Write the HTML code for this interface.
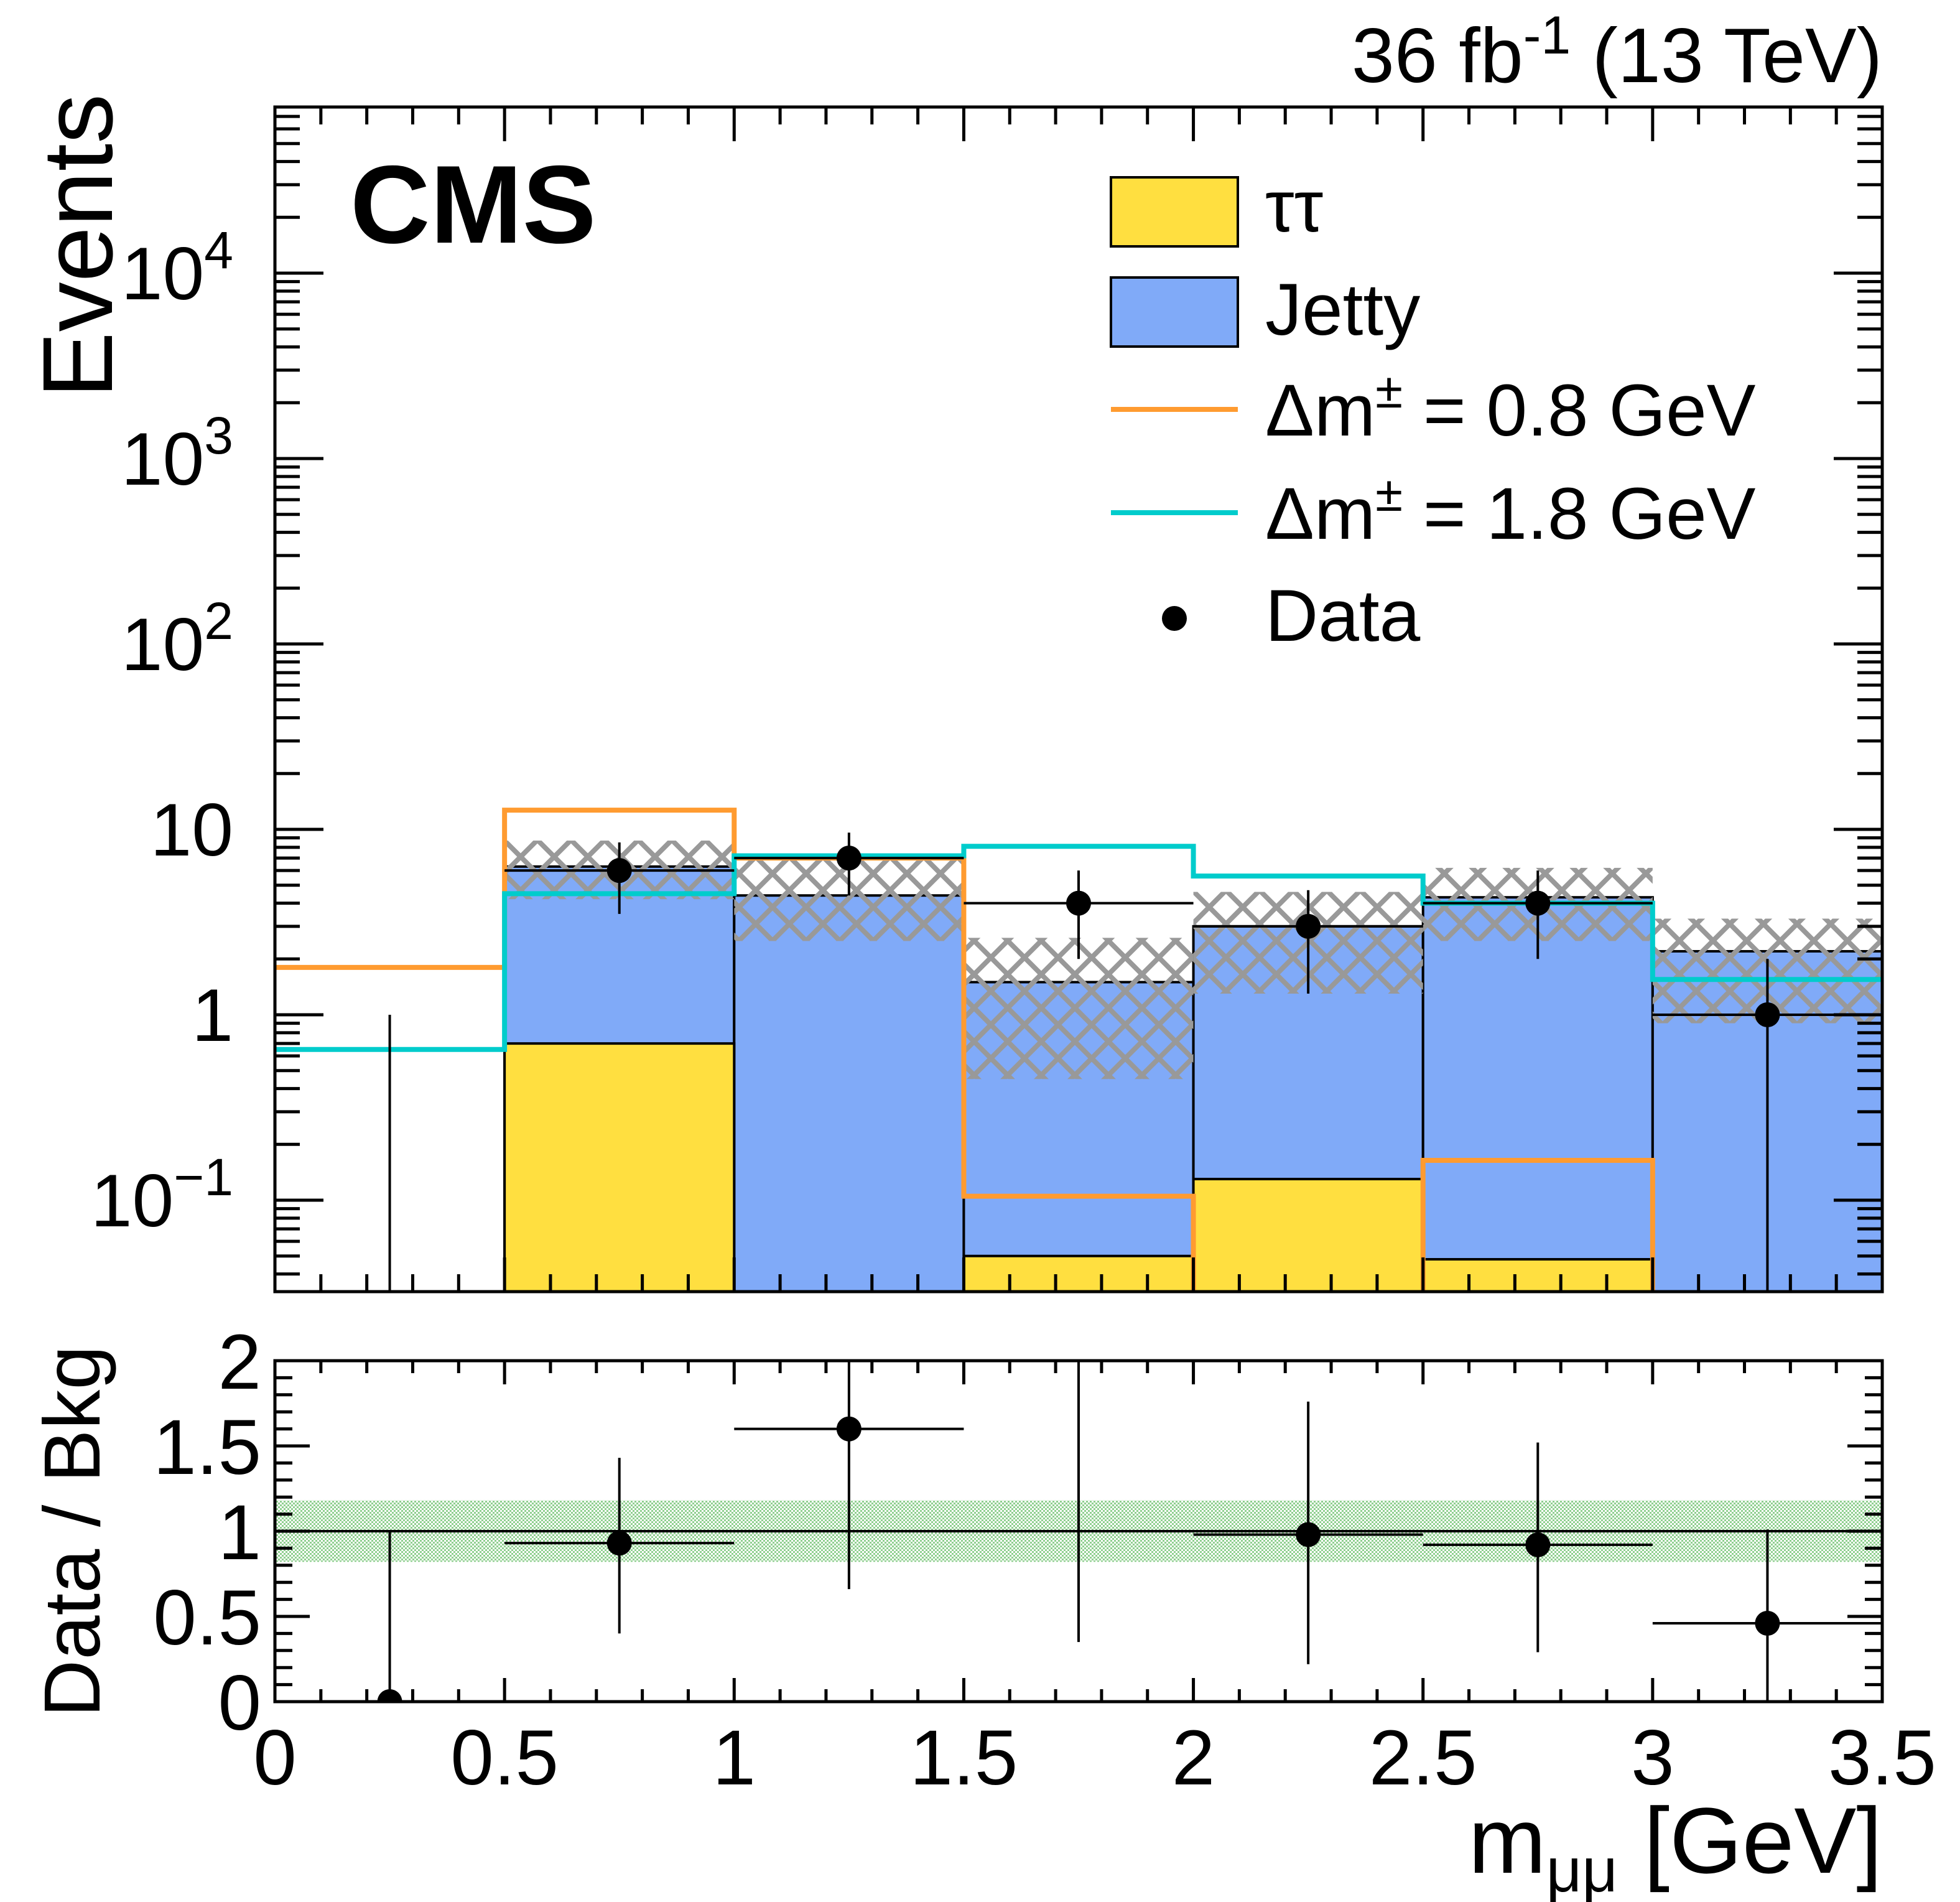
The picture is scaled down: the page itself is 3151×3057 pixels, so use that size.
<!DOCTYPE html>
<html><head><meta charset="utf-8"><style>
body{margin:0;background:#fff}
svg{display:block;font-family:"Liberation Sans",Arial,sans-serif}
</style></head><body>
<svg id="c" width="3151" height="3057" viewBox="0 0 3151 3057" xmlns="http://www.w3.org/2000/svg">
<defs>
<pattern id="hatch" patternUnits="userSpaceOnUse" width="54" height="54">
<path d="M0,0 L54,54 M54,0 L0,54" stroke="#999" stroke-width="8"/>
</pattern>
<pattern id="dots" patternUnits="userSpaceOnUse" width="6" height="6">
<rect width="6" height="6" fill="#fff"/><rect width="3" height="3" fill="#8fcf8f"/><rect x="3" y="3" width="3" height="3" fill="#8fcf8f"/>
</pattern>
<clipPath id="mainclip"><rect x="442" y="172" width="2584" height="1904"/></clipPath>
<clipPath id="ratioclip"><rect x="442" y="2187" width="2584" height="548"/></clipPath>
</defs>
<g id="main" clip-path="url(#mainclip)"></g>
<g id="ratio" clip-path="url(#ratioclip)"></g>
<g id="axes"></g>
<text x="3026" y="132" font-size="124" text-anchor="end">36 fb<tspan dy="-46" font-size="86">-1</tspan><tspan dy="46"> (13 TeV)</tspan></text>
<text x="563" y="390" font-size="178" font-weight="bold">CMS</text>
<text transform="translate(180,640) rotate(-90)" font-size="160">Events</text>
<text transform="translate(160,2760) rotate(-90)" font-size="128">Data / Bkg</text>
<text x="3026" y="3010" font-size="150" text-anchor="end">m<tspan dy="30" font-size="100">μμ</tspan><tspan dy="-30"> [GeV]</tspan></text>
<g id="legend">
<rect x="1786" y="285" width="204" height="111" fill="#ffdf40" stroke="#000" stroke-width="4"/>
<text x="2034" y="372" font-size="118">ττ</text>
<rect x="1786" y="446" width="204" height="111" fill="#80aaf8" stroke="#000" stroke-width="4"/>
<text x="2034" y="538" font-size="118">Jetty</text>
<line x1="1786" y1="658" x2="1990" y2="658" stroke="#ff9b30" stroke-width="8"/>
<text x="2034" y="700" font-size="118">Δm<tspan dy="-45" font-size="80">±</tspan><tspan dy="45"> = 0.8 GeV</tspan></text>
<line x1="1786" y1="824" x2="1990" y2="824" stroke="#00cccc" stroke-width="8"/>
<text x="2034" y="866" font-size="118">Δm<tspan dy="-45" font-size="80">±</tspan><tspan dy="45"> = 1.8 GeV</tspan></text>
<circle cx="1888" cy="994" r="20" fill="#000"/>
<text x="2034" y="1030" font-size="118">Data</text>
</g>
</svg>
<script>
const binEdges=[0,0.5,1,1.5,2,2.5,3,3.5];
const tautau=[0,0.7,0.001,0.05,0.13,0.048,0];
const stackTotal=[0,6.3,4.4,1.5,3.0,4.3,2.2];
const uncLow=[0,4.2,2.5,0.45,1.3,2.5,0.9];
const uncHigh=[0,8.7,7.2,2.6,4.6,6.2,3.3];
const sigDm08=[1.8,12.7,7.0,0.105,0.01,0.164,0.01];
const sigDm18=[0.65,4.5,7.2,8.1,5.6,4.0,1.55];
const dataVals=[0,6,7,4,3,4,1];
const dataLow=[0,3.5,4.4,2,1.3,2,0.001];
const dataHigh=[1,8.5,9.6,6,4.7,6,2];
const ratioVals=[0,0.93,1.6,null,0.98,0.92,0.46];
const ratioLow=[0,0.40,0.66,0.35,0.22,0.29,0];
const ratioHigh=[1.0,1.43,2.2,2.2,1.76,1.52,1.01];
const bandLow=0.82, bandHigh=1.18;
const xTickLabels=["0","0.5","1","1.5","2","2.5","3","3.5"];
const ratioTickLabels=["0","0.5","1","1.5","2"];

const NS="http://www.w3.org/2000/svg";
const X0=442,X1=3026,MT=172,MB=2076,RT=2187,RB=2735;
const yOne=1631,dec=298;
function xs(v){return X0+(v-0)/3.5*(X1-X0);}
function ys(v){return yOne-Math.log10(Math.max(v,1e-4))*dec;}
function yr(v){return RB-v/2*(RB-RT);}
function el(tag,attrs,parent){const e=document.createElementNS(NS,tag);for(const k in attrs)e.setAttribute(k,attrs[k]);parent.appendChild(e);return e;}
const main=document.getElementById('main'),ratio=document.getElementById('ratio'),axes=document.getElementById('axes');

for(let i=0;i<7;i++){
  if(stackTotal[i]<=0)continue;
  const r=el('rect',{x:xs(binEdges[i]),y:ys(stackTotal[i]),width:xs(binEdges[i+1])-xs(binEdges[i]),height:MB-ys(stackTotal[i]),fill:'#80aaf8',stroke:'#000','stroke-width':4},main);
  
  
}
for(let i=0;i<7;i++){
  if(tautau[i]<=0)continue;
  const r=el('rect',{x:xs(binEdges[i]),y:ys(tautau[i]),width:xs(binEdges[i+1])-xs(binEdges[i]),height:MB-ys(tautau[i]),fill:'#ffdf40',stroke:'#000','stroke-width':4},main);
  
  
}
for(let i=0;i<7;i++){
  if(uncHigh[i]<=0)continue;
  const r=el('rect',{x:xs(binEdges[i]),y:ys(uncHigh[i]),width:xs(binEdges[i+1])-xs(binEdges[i]),height:ys(uncLow[i])-ys(uncHigh[i]),fill:'url(#hatch)'},main);
  
  
}
function stepPath(vals){
  let d='';
  for(let i=0;i<vals.length;i++){
    const y=Math.min(ys(vals[i]),MB+10);
    d+=(i===0?'M':'L')+xs(binEdges[i])+','+y+' L'+xs(binEdges[i+1])+','+y+' ';
  }
  return d;
}
const p1=el('path',{d:stepPath(sigDm08),fill:'none',stroke:'#ff9b30','stroke-width':8},main);


const p2=el('path',{d:stepPath(sigDm18),fill:'none',stroke:'#00cccc','stroke-width':8},main);



for(let i=0;i<7;i++){
  const cx=xs((binEdges[i]+binEdges[i+1])/2);
  const g=el('g',{},main);
  
  
  el('line',{x1:cx,x2:cx,y1:ys(dataHigh[i]),y2:Math.min(ys(dataLow[i]),MB),stroke:'#000','stroke-width':4},g);
  if(dataVals[i]>0){
    el('line',{x1:xs(binEdges[i]),x2:xs(binEdges[i+1]),y1:ys(dataVals[i]),y2:ys(dataVals[i]),stroke:'#000','stroke-width':4},g);
    el('circle',{cx:cx,cy:ys(dataVals[i]),r:20,fill:'#000'},g);
  }
}
const band=el('rect',{x:X0,y:yr(bandHigh),width:X1-X0,height:yr(bandLow)-yr(bandHigh),fill:'url(#dots)'},ratio);


const ul=el('line',{x1:X0,x2:X1,y1:yr(1),y2:yr(1),stroke:'#000','stroke-width':4},ratio);


for(let i=0;i<7;i++){
  const cx=xs((binEdges[i]+binEdges[i+1])/2);
  const g=el('g',{},ratio);
  
  
  el('line',{x1:cx,x2:cx,y1:yr(ratioHigh[i]),y2:yr(ratioLow[i]),stroke:'#000','stroke-width':4},g);
  if(ratioVals[i]!==null){
    if(i>0)el('line',{x1:xs(binEdges[i]),x2:xs(binEdges[i+1]),y1:yr(ratioVals[i]),y2:yr(ratioVals[i]),stroke:'#000','stroke-width':4},g);
    el('circle',{cx:cx,cy:yr(ratioVals[i]),r:20,fill:'#000'},g);
  }
}
const f1=el('rect',{x:X0,y:MT,width:X1-X0,height:MB-MT,fill:'none',stroke:'#000','stroke-width':5},axes);


const f2=el('rect',{x:X0,y:RT,width:X1-X0,height:RB-RT,fill:'none',stroke:'#000','stroke-width':5},axes);


let td='';
for(let k=0;k<=35;k++){
  const v=k/10,x=xs(v),major=(k%5===0);
  const L=major?55:28, Lr=major?38:20;
  td+=`M${x},${MT}v${L}M${x},${MB}v${-L}M${x},${RT}v${Lr}M${x},${RB}v${-Lr}`;
}
for(let e=-2;e<=4;e++){
  for(let m=1;m<=9;m++){
    const v=m*Math.pow(10,e),y=ys(v);
    if(y<MT||y>MB)continue;
    const L=(m===1)?78:40;
    td+=`M${X0},${y}h${L}M${X1},${y}h${-L}`;
  }
}
for(let k=0;k<=20;k++){
  const y=yr(k/10),L=(k%5===0)?56:28;
  td+=`M${X0},${y}h${L}M${X1},${y}h${-L}`;
}
const ticks=el('path',{d:td,stroke:'#000','stroke-width':5,fill:'none'},axes);


const yLab=[[1e4,'10','4'],[1e3,'10','3'],[100,'10','2'],[10,'10',null],[1,'1',null],[0.1,'10','−1']];
yLab.forEach(([v,b,s])=>{
  const t=el('text',{x:375,y:ys(v)+42,'font-size':120,'text-anchor':'end'},axes);
  
  
  t.textContent=b;
  if(s){const sp=el('tspan',{dy:-50,'font-size':84},t);sp.textContent=s;}
});
ratioTickLabels.forEach((s,i)=>{
  const t=el('text',{x:420,y:yr(i*0.5)+45,'font-size':125,'text-anchor':'end'},axes);
  
  
  t.textContent=s;
});
xTickLabels.forEach((s,i)=>{
  const t=el('text',{x:xs(i*0.5),y:2868,'font-size':125,'text-anchor':'middle'},axes);
  
  
  t.textContent=s;
});
</script>
</body></html>
